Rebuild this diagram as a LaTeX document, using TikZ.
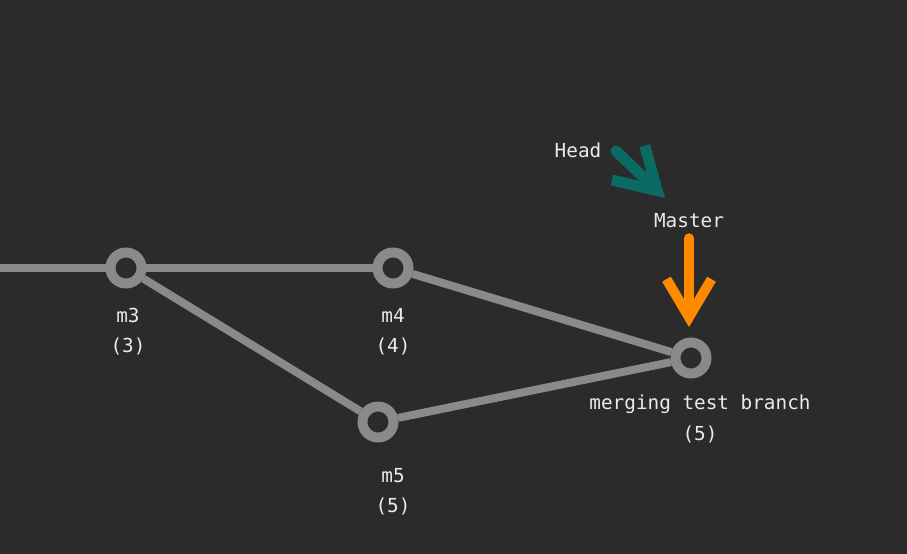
\documentclass[tikz,border=0pt]{standalone}
\usepackage{fontspec}
\setmonofont{DejaVu Sans Mono}
\usetikzlibrary{arrows.meta}

\definecolor{bg}{HTML}{2B2B2B}
\definecolor{edgegray}{HTML}{8A8A8A}
\definecolor{headteal}{HTML}{0B6B63}
\definecolor{masterorange}{HTML}{FF8A00}
\definecolor{labelwhite}{HTML}{EAEAEA}

\begin{document}
\begin{tikzpicture}[x = 0.02cm, y = -0.02cm,
	commit/.style = {circle, draw = edgegray, fill = bg, line width = 0.2cm, minimum size = 0.62cm, inner sep = 0pt},
	link/.style = {draw = edgegray, line width = 0.16cm},
	label/.style = {text = labelwhite, font = \ttfamily\fontsize{11}{13}\selectfont, inner sep = 1pt},
	pointer/.style = {line cap = round, line join = round}]

	% Background

	\fill [bg] (0, 0) rectangle (907, 554);
	\useasboundingbox (0, 0) rectangle (907, 554);

	% Commits

	\node [commit] (c3) at (126, 268) {};
	\node [commit] (c4) at (393, 268) {};
	\node [commit] (c5) at (378, 422) {};
	\node [commit] (merge) at (691, 358) {};
	\coordinate (start) at (0, 268);

	% Links between commits

	\draw [link] (start) -- (c3);
	\draw [link] (c3) -- (c4);
	\draw [link] (c3) -- (c5);
	\draw [link] (c4) -- (merge);
	\draw [link] (c5) -- (merge);

	% Commit labels

	\node [label] (m3) at (128, 315) {m3};
	\node [label] (n3) at (128, 346) {(3)};
	\node [label] (m4) at (393, 315) {m4};
	\node [label] (n4) at (393, 346) {(4)};
	\node [label] (m5) at (393, 476) {m5};
	\node [label] (n5) at (393, 506) {(5)};
	\node [label] (mtb) at (700, 404) {merging test branch};
	\node [label] (nm) at (700, 434) {(5)};

	% Pointers

	\node [label] (head) at (578, 150) {Head};
	\node [label] (master) at (689, 221) {Master};
	\coordinate (headtail) at (616, 151);
	\coordinate (headtip) at (665, 198);
	\coordinate (mastertip) at (689, 327);

	\draw [pointer, headteal, line width = 0.22cm, -{Straight Barb[length = 0.8cm, width = 0.95cm]}] (headtail) -- (headtip);
	\draw [pointer, masterorange, line width = 0.2cm, -{Straight Barb[length = 0.76cm, width = 0.9cm]}] (master.south) ++ (0, 8) -- (mastertip);

\end{tikzpicture}
\end{document}
